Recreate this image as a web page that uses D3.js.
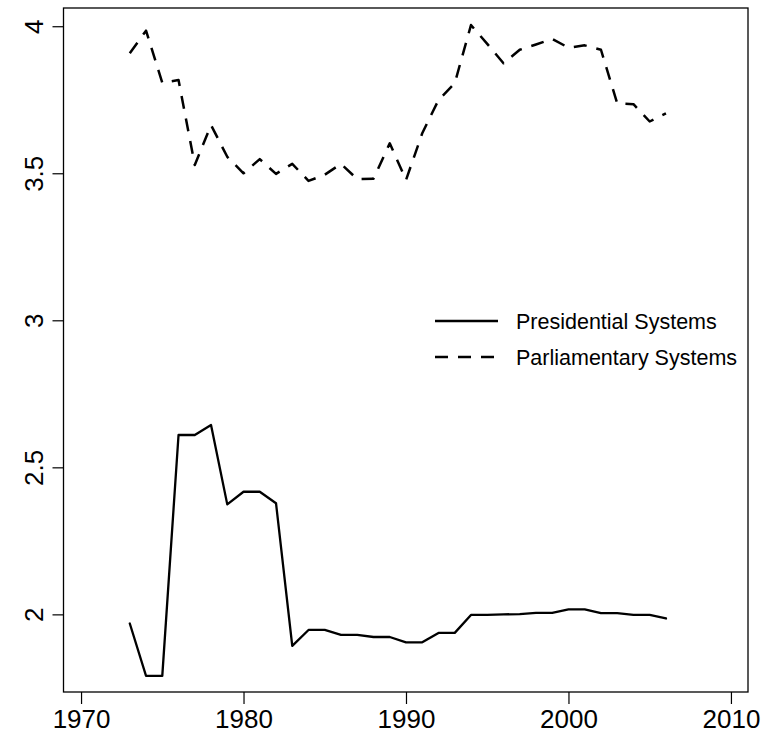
<!DOCTYPE html>
<html>
<head>
<meta charset="utf-8">
<script src="https://cdn.jsdelivr.net/npm/d3@7/dist/d3.min.js"></script>
<style>
  html, body { margin: 0; padding: 0; background: #fff; }
  svg { display: block; font-family: "Liberation Sans", Arial, sans-serif; }
</style>
</head>
<body>
<svg id="chart" width="766" height="747"></svg>
<script>
const years = d3.range(1973, 2007);
const presidential = [1.969, 1.791, 1.791, 2.610, 2.610, 2.644, 2.374, 2.417, 2.417, 2.378,
  1.893, 1.947, 1.947, 1.930, 1.930, 1.923, 1.923, 1.905, 1.905, 1.937,
  1.937, 1.998, 1.998, 2.000, 2.001, 2.005, 2.005, 2.017, 2.017, 2.004,
  2.004, 1.998, 1.998, 1.986];
const parliamentary = [3.908, 3.985, 3.808, 3.817, 3.528, 3.664, 3.556, 3.500, 3.548, 3.498,
  3.532, 3.474, 3.495, 3.532, 3.480, 3.481, 3.602, 3.477, 3.636, 3.749,
  3.806, 4.004, 3.940, 3.874, 3.920, 3.938, 3.957, 3.927, 3.935, 3.920,
  3.738, 3.735, 3.676, 3.704];
const xTicks = [1970, 1980, 1990, 2000, 2010];
const yTicks = [2, 2.5, 3, 3.5, 4];
const yTickLabels = ["2", "2.5", "3", "3.5", "4"];
const seriesNames = ["Presidential Systems", "Parliamentary Systems"];

const svg = d3.select("#chart");
const box = {left: 63.5, right: 748, top: 8, bottom: 692};

const x = d3.scaleLinear().domain([1968.92, 2011.05]).range([box.left, box.right]);
const y = d3.scaleLinear().domain([1.736, 4.062]).range([box.bottom, box.top]);

// plot frame
svg.append("rect")
  .attr("x", box.left).attr("y", box.top)
  .attr("width", box.right - box.left).attr("height", box.bottom - box.top)
  .attr("fill", "none").attr("stroke", "#000").attr("stroke-width", 1.3);

// x axis
const xAxis = svg.append("g").attr("transform", `translate(0,${box.bottom})`)
  .call(d3.axisBottom(x).tickValues(xTicks).tickFormat(d3.format("d")).tickSize(12).tickPadding(6));
xAxis.select(".domain").remove();
xAxis.selectAll("line").attr("stroke", "#000").attr("stroke-width", 1.2);
xAxis.selectAll("text").attr("font-size", 26).attr("fill", "#000")
  .attr("font-family", "Liberation Sans, Arial, sans-serif");

// y axis
const yAxis = svg.append("g").attr("transform", `translate(${box.left},0)`)
  .call(d3.axisLeft(y).tickValues(yTicks).tickFormat((d, i) => yTickLabels[i]).tickSize(11));
yAxis.select(".domain").remove();
yAxis.selectAll("line").attr("stroke", "#000").attr("stroke-width", 1.2);
yAxis.selectAll("text").remove();
yAxis.selectAll(".tick").append("text")
  .attr("transform", "translate(-21,0) rotate(-90)")
  .attr("text-anchor", "middle")
  .attr("font-size", 26)
  .attr("fill", "#000")
  .attr("font-family", "Liberation Sans, Arial, sans-serif")
  .text((d, i) => yTickLabels[i]);

const line = d3.line().x(d => x(d[0])).y(d => y(d[1]));

svg.append("path")
  .datum(years.map((yr, i) => [yr, presidential[i]]))
  .attr("d", line).attr("fill", "none").attr("stroke", "#000")
  .attr("stroke-width", 2.3).attr("stroke-linejoin", "round").attr("stroke-linecap", "round");

svg.append("path")
  .datum(years.map((yr, i) => [yr, parliamentary[i]]))
  .attr("d", line).attr("fill", "none").attr("stroke", "#000")
  .attr("stroke-width", 2.5).attr("stroke-dasharray", "13,10")
  .attr("stroke-linejoin", "round").attr("stroke-linecap", "butt");

// legend
const legend = svg.append("g");
const legendRows = [
  {name: seriesNames[0], dash: null, y: 321},
  {name: seriesNames[1], dash: "13,10", y: 357}
];
legendRows.forEach(r => {
  legend.append("line")
    .attr("x1", 435).attr("x2", 498).attr("y1", r.y).attr("y2", r.y)
    .attr("stroke", "#000").attr("stroke-width", 2.4)
    .attr("stroke-dasharray", r.dash);
  legend.append("text")
    .attr("x", 516).attr("y", r.y).attr("dy", "0.35em")
    .attr("font-size", 21.5).attr("fill", "#000")
    .text(r.name);
});
</script>
</body>
</html>
